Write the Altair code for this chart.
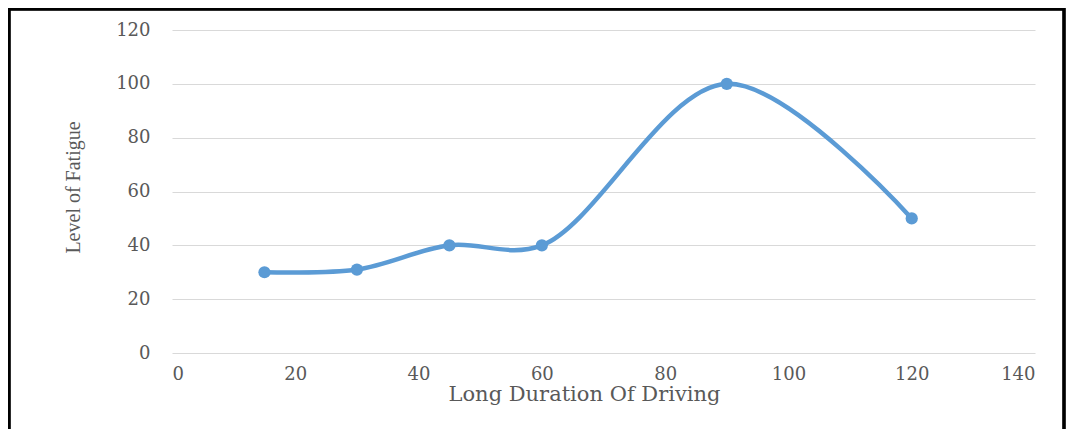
import altair as alt
import pandas as pd

durations = [15, 30, 45, 60, 90, 120]
fatigue = [30, 31, 40, 40, 100, 50]

df = pd.DataFrame({"duration": durations, "fatigue": fatigue})

W, H = 863, 323
BLUE = "#5B9BD5"
GRAY = "#595959"

x = alt.X(
    "duration:Q",
    scale=alt.Scale(domain=[0, 140], nice=False, zero=True),
    axis=alt.Axis(
        values=[0, 20, 40, 60, 80, 100, 120, 140],
        title="Long Duration Of Driving",
        grid=False, domain=False, ticks=False, tickSize=0,
        labelFont="DejaVu Serif", labelFontSize=18, labelColor=GRAY,
        labelPadding=12,
        titleFont="DejaVu Serif", titleFontSize=21, titleColor=GRAY,
        titleFontWeight="normal",
        titleX=412, titleY=47, titleBaseline="alphabetic",
    ),
)
y = alt.Y(
    "fatigue:Q",
    scale=alt.Scale(domain=[0, 120], nice=False),
    axis=alt.Axis(
        values=[0, 20, 40, 60, 80, 100, 120],
        title="Level of Fatigue",
        grid=True, gridColor="#d9d9d9", gridWidth=1,
        domain=False, ticks=False, tickSize=0,
        labelFont="DejaVu Serif", labelFontSize=18, labelColor=GRAY,
        labelPadding=22,
        titleFont="Liberation Serif", titleFontSize=20, titleColor=GRAY,
        titleFontWeight="normal",
        titleX=-89, titleY=157, titleBaseline="bottom", titleAngle=270,
    ),
)

line = alt.Chart(df).mark_line(
    interpolate="catmull-rom", color=BLUE, strokeWidth=4.5
).encode(x=x, y=y)

points = alt.Chart(df).mark_point(
    filled=True, color=BLUE, size=150, opacity=1
).encode(x="duration:Q", y="fatigue:Q")

border = alt.Chart(df).mark_rect(
    fill=None, stroke="black", strokeWidth=2.5
).encode(
    x=alt.value(-163), x2=alt.value(892),
    y=alt.value(-21), y2=alt.value(440),
)

chart = (
    alt.layer(line, points, border)
    .properties(
        width=W, height=H,
        autosize=alt.AutoSizeParams(type="none"),
        padding={"left": 164, "top": 22, "right": 32, "bottom": 76},
        background="white",
    )
    .configure_view(stroke=None)
)

chart.save("out.html", embed_options={"renderer": "svg", "actions": False})
